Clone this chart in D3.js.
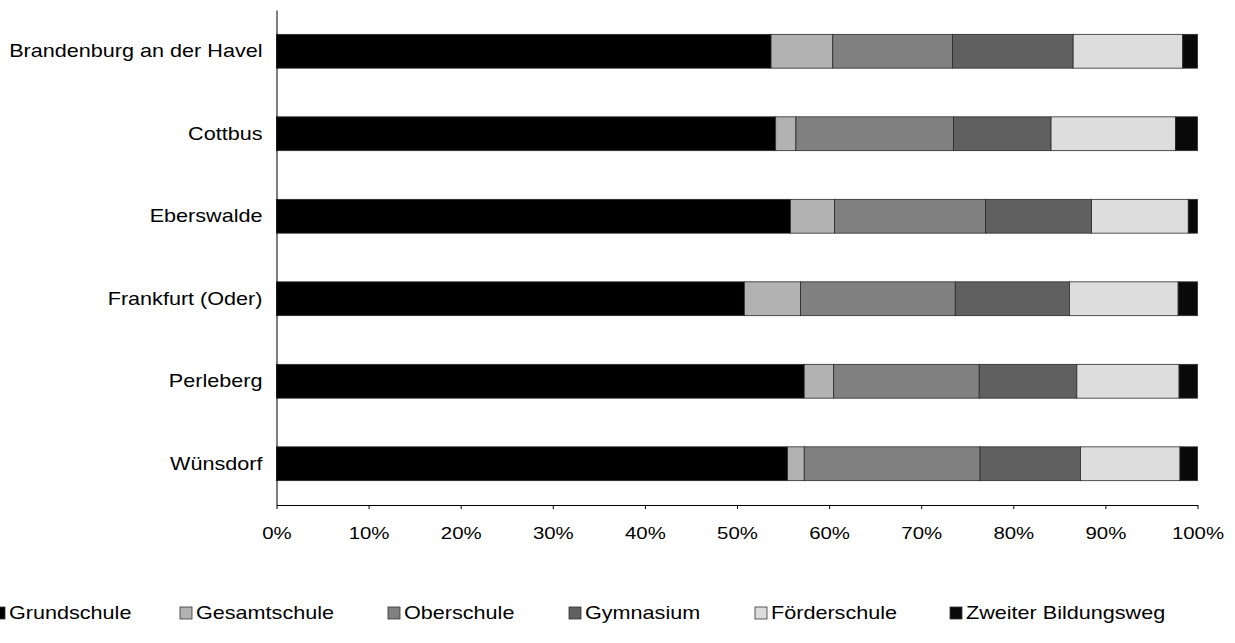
<!DOCTYPE html>
<html>
<head>
<meta charset="utf-8">
<script src="https://cdn.jsdelivr.net/npm/d3@7"></script>
<style>
  html, body { margin: 0; padding: 0; background: #fff; }
  svg { display: block; font-family: "Liberation Sans", Arial, sans-serif; }
</style>
</head>
<body>
<svg id="chart" width="1235" height="643"></svg>
<script>
// Schulstandorte (Kategorien)
const categories = ["Brandenburg an der Havel", "Cottbus", "Eberswalde", "Frankfurt (Oder)", "Perleberg", "Wünsdorf"];
// Schulformen (Reihen)
const seriesNames = ["Grundschule", "Gesamtschule", "Oberschule", "Gymnasium", "Förderschule", "Zweiter Bildungsweg"];
// Anteile in Prozent je Standort
const grundschule       = [53.7, 54.2, 55.8, 50.8, 57.3, 55.5];
const gesamtschule      = [6.7, 2.2, 4.8, 6.1, 3.2, 1.8];
const oberschule        = [13.0, 17.1, 16.4, 16.8, 15.8, 19.1];
const gymnasium         = [13.1, 10.6, 11.5, 12.4, 10.6, 10.9];
const foerderschule     = [11.9, 13.5, 10.5, 11.8, 11.1, 10.8];
const zweiterBildungsweg = [1.6, 2.4, 1.0, 2.1, 2.0, 1.9];
const tickValues = [0, 10, 20, 30, 40, 50, 60, 70, 80, 90, 100];

const seriesColors = ["#000000", "#b2b2b2", "#808080", "#606060", "#dddddd", "#0a0a0a"];

const seriesValues = [grundschule, gesamtschule, oberschule, gymnasium, foerderschule, zweiterBildungsweg];
const rows = categories.map((c, i) => {
  const r = { category: c };
  seriesNames.forEach((s, j) => { r[s] = seriesValues[j][i]; });
  return r;
});

// Schrift wird horizontal leicht gedehnt dargestellt
const stretch = 1.2;

const svg = d3.select("#chart");
const margin = { left: 276.5, right: 1197.5, top: 10, bottom: 505 };

const x = d3.scaleLinear().domain([0, 100]).range([margin.left, margin.right]);
const y = d3.scaleBand().domain(categories).range([margin.top, margin.bottom])
  .paddingInner(0.59).paddingOuter(0.295);

const stacked = d3.stack().keys(seriesNames)(rows);

const g = svg.append("g");
stacked.forEach((layer, j) => {
  g.append("g")
    .attr("fill", seriesColors[j])
    .attr("stroke", "#2a2a2a")
    .attr("stroke-width", 0.8)
    .selectAll("rect")
    .data(layer)
    .join("rect")
    .attr("x", d => x(d[0]))
    .attr("y", d => y(d.data.category))
    .attr("width", d => x(d[1]) - x(d[0]))
    .attr("height", y.bandwidth());
});

// x-Achse
const xAxis = d3.axisBottom(x).tickValues(tickValues).tickFormat(d => d + "%").tickSize(4).tickSizeOuter(0);
const gx = svg.append("g").attr("transform", `translate(0,${margin.bottom})`).call(xAxis);
gx.select(".domain").attr("stroke", "#000").attr("stroke-width", 1);
gx.selectAll(".tick line").attr("stroke", "#000");
gx.selectAll(".tick text")
  .attr("font-size", 17).attr("fill", "#000")
  .attr("font-family", "'Liberation Sans', Arial, sans-serif")
  .attr("y", 0).attr("dy", "0.35em")
  .attr("transform", `translate(0,28) scale(${stretch},1)`);

// y-Achse
const yAxis = d3.axisLeft(y).tickSize(0).tickPadding(0);
const gy = svg.append("g").attr("transform", `translate(${margin.left},0)`).call(yAxis);
gy.select(".domain").attr("stroke", "#000").attr("stroke-width", 1);
gy.selectAll(".tick text")
  .attr("font-size", 18).attr("fill", "#000")
  .attr("font-family", "'Liberation Sans', Arial, sans-serif")
  .attr("x", 0)
  .attr("transform", `translate(-14,0) scale(${stretch},1)`);

// Legende
const legendX = [-7, 180, 388, 569, 755, 950];
const legend = svg.append("g").attr("transform", "translate(0,613)");
seriesNames.forEach((s, j) => {
  const item = legend.append("g").attr("transform", `translate(${legendX[j]},0)`);
  item.append("rect").attr("x", 0).attr("y", -6).attr("width", 12).attr("height", 12)
    .attr("fill", seriesColors[j]).attr("stroke", "#333").attr("stroke-width", 0.8);
  item.append("text").attr("x", 0).attr("y", 0).attr("dy", "0.35em")
    .attr("transform", `translate(16,0) scale(${stretch},1)`)
    .attr("font-size", 18).attr("fill", "#000").text(s);
});
</script>
</body>
</html>
